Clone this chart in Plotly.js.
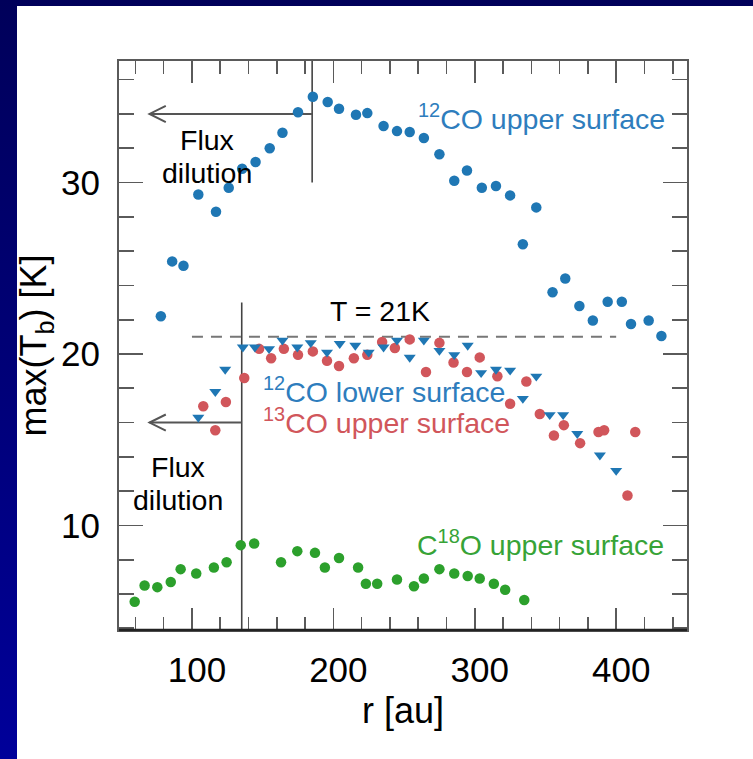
<!DOCTYPE html>
<html>
<head>
<meta charset="utf-8">
<script src="https://cdn.plot.ly/plotly-3.0.1.min.js"></script>
<style>
  html, body { margin: 0; padding: 0; }
  body { width: 753px; height: 759px; background: linear-gradient(to bottom, #00005a 0%, #000078 50%, #00009a 100%); position: relative; overflow: hidden; }
  #panel { position: absolute; left: 17px; top: 6px; right: 0; bottom: 0; background: #ffffff; }
  #chart { position: absolute; left: 0; top: 0; width: 753px; height: 759px; }
</style>
</head>
<body>
<div id="panel"></div>
<div id="chart"></div>
<script>
// ---- Data ----
const co12UpperR = [78, 86, 94, 104.5, 117, 126, 135.5, 145, 155, 164, 175, 185.5, 196, 204, 216, 224, 235.5, 245, 254, 264, 275, 285.5, 294.5, 305, 315, 325, 334, 343.5, 355, 364, 374, 383.5, 394, 404, 410.5, 423, 432];
const co12UpperT = [22.2, 25.4, 25.15, 29.3, 28.3, 29.7, 30.8, 31.2, 32.0, 32.9, 34.1, 35.0, 34.7, 34.3, 33.95, 34.05, 33.3, 33.0, 32.95, 32.6, 31.65, 30.1, 30.7, 29.7, 29.8, 29.25, 26.4, 28.55, 23.6, 24.4, 22.8, 21.95, 23.05, 23.05, 21.75, 21.95, 21.05];

const co12LowerR = [104.5, 116.5, 123.5, 136, 144.5, 154.5, 164, 174.5, 184, 195.5, 204.5, 215.5, 225, 235.5, 245, 254, 264, 275, 285.5, 295, 304.5, 315, 325, 334, 343.5, 353, 362.5, 372.5, 388.5, 400];
const co12LowerT = [16.3, 17.8, 19.1, 20.4, 20.4, 20.3, 20.8, 20.4, 20.65, 20.1, 20.6, 20.5, 20.1, 20.4, 20.8, 19.8, 20.8, 20.2, 19.95, 20.5, 18.9, 19.1, 19.05, 17.4, 18.7, 16.45, 16.45, 15.35, 14.1, 13.2];

const co13UpperR = [108, 116.5, 124, 137, 147.5, 156, 165, 175, 185.5, 195.5, 204, 214.5, 224, 234.5, 243.5, 254, 265.5, 275, 285, 294.5, 303.5, 316, 325, 336.5, 346, 356, 363, 374.5, 387.5, 391.5, 408, 413.5];
const co13UpperT = [16.95, 15.55, 17.2, 18.6, 20.3, 19.75, 20.3, 19.95, 20.15, 19.6, 19.3, 19.75, 19.95, 20.7, 20.35, 20.85, 18.95, 20.65, 19.5, 18.95, 19.8, 18.7, 17.1, 18.4, 16.5, 15.25, 15.85, 14.8, 15.45, 15.55, 11.75, 15.45];

const c18oUpperR = [59.5, 66.5, 75.5, 85, 92, 103, 115.5, 124.5, 134.5, 144, 163, 174.5, 187, 194, 204, 217.5, 223, 231, 245, 257, 264, 275, 285.5, 295, 303.5, 313.5, 321.5, 335];
const c18oUpperT = [5.55, 6.5, 6.4, 6.7, 7.45, 7.2, 7.55, 7.85, 8.85, 8.95, 7.85, 8.5, 8.4, 7.55, 8.1, 7.55, 6.6, 6.6, 6.85, 6.45, 6.9, 7.45, 7.2, 7.05, 6.9, 6.6, 6.25, 5.65];

const seriesNames = ['<sup>12</sup>CO upper surface', '<sup>12</sup>CO lower surface', '<sup>13</sup>CO upper surface', 'C<sup>18</sup>O upper surface'];
const xTickVals = [100, 200, 300, 400];
const yTickVals = [10, 20, 30];

// Reference markers: freeze-out temperature and flux-dilution radii
const tFreeze = 21;          // K
const rFluxUpper = 185;      // au, 12CO upper
const rFluxLower = 135.2;    // au, 12CO lower / 13CO
const rArrowTip = 70;        // au
const tArrowUpper = 34;      // K
const tArrowLower = 16;      // K

// ---- Styles ----
const FONT = 'Liberation Sans, Arial, Helvetica, sans-serif';
const BLUE = '#1f77b4', RED = '#d1565b', GREEN = '#2ca02c';
const AX = '#5a5a5a';

const xRange = [48.4, 450.1];
const yRange = [3.9, 37.09];

const traces = [
  { x: co12UpperR, y: co12UpperT, name: seriesNames[0], mode: 'markers', type: 'scatter',
    marker: { color: BLUE, size: 10.5, symbol: 'circle' } },
  { x: co13UpperR, y: co13UpperT, name: seriesNames[2], mode: 'markers', type: 'scatter',
    marker: { color: RED, size: 10.5, symbol: 'circle' } },
  { x: co12LowerR, y: co12LowerT, name: seriesNames[1], mode: 'markers', type: 'scatter',
    marker: { color: BLUE, size: 10.5, symbol: 'triangle-down' } },
  { x: c18oUpperR, y: c18oUpperT, name: seriesNames[3], mode: 'markers', type: 'scatter',
    marker: { color: GREEN, size: 10.5, symbol: 'circle' } }
];

// chevron arrowhead helper (data coords)
function chevron(xTip, yTip) {
  const dx = 11.5, dy = 0.47;
  return 'M ' + (xTip + dx) + ' ' + (yTip + dy) + ' L ' + xTip + ' ' + yTip + ' L ' + (xTip + dx) + ' ' + (yTip - dy);
}

const lineStyle = { color: '#555555', width: 2 };
const shapes = [
  { type: 'line', xref: 'x', yref: 'y', x0: rFluxUpper, x1: rFluxUpper, y0: 30, y1: yRange[1], line: { color: '#444', width: 1.6 }, layer: 'below' },
  { type: 'line', xref: 'x', yref: 'y', x0: rFluxUpper, x1: rArrowTip, y0: tArrowUpper, y1: tArrowUpper, line: lineStyle, layer: 'below' },
  { type: 'path', xref: 'x', yref: 'y', path: chevron(rArrowTip, tArrowUpper), line: lineStyle },
  { type: 'line', xref: 'x', yref: 'y', x0: rFluxLower, x1: rFluxLower, y0: yRange[0], y1: 23, line: { color: '#444', width: 1.6 }, layer: 'below' },
  { type: 'line', xref: 'x', yref: 'y', x0: rFluxLower, x1: rArrowTip, y0: tArrowLower, y1: tArrowLower, line: lineStyle, layer: 'below' },
  { type: 'path', xref: 'x', yref: 'y', path: chevron(rArrowTip, tArrowLower), line: lineStyle },
  { type: 'line', xref: 'x', yref: 'y', x0: 100, x1: 400, y0: tFreeze, y1: tFreeze, line: { color: '#777', width: 2, dash: '11px,8px' }, layer: 'below' },
  { type: 'line', xref: 'paper', yref: 'paper', x0: 0, x1: 1, y0: 0, y1: 0, line: { color: '#222', width: 2.5 } }
];

const annFont = (c) => ({ family: FONT, size: 28.5, color: c });
const annotations = [
  { x: 347.5, y: 33.8, xref: 'x', yref: 'y', text: seriesNames[0], showarrow: false, font: annFont('#2e7dbd') },
  { x: 236, y: 17.9, xref: 'x', yref: 'y', text: seriesNames[1], showarrow: false, font: annFont('#2e7dbd') },
  { x: 237.5, y: 16.1, xref: 'x', yref: 'y', text: seriesNames[2], showarrow: false, font: annFont('#d1565b') },
  { x: 346.5, y: 8.97, xref: 'x', yref: 'y', text: seriesNames[3], showarrow: false, font: annFont('#37a337') },
  { x: 233, y: 22.5, xref: 'x', yref: 'y', text: 'T = ' + tFreeze + 'K', showarrow: false, font: annFont('#000') },
  { x: 110.4, y: 32.5, xref: 'x', yref: 'y', text: 'Flux', showarrow: false, font: annFont('#000') },
  { x: 110.4, y: 30.55, xref: 'x', yref: 'y', text: 'dilution', showarrow: false, font: annFont('#000') },
  { x: 90.4, y: 13.42, xref: 'x', yref: 'y', text: 'Flux', showarrow: false, font: annFont('#000') },
  { x: 90.4, y: 11.5, xref: 'x', yref: 'y', text: 'dilution', showarrow: false, font: annFont('#000') }
];

const layout = {
  width: 753, height: 759,
  paper_bgcolor: 'rgba(0,0,0,0)',
  plot_bgcolor: '#ffffff',
  margin: { l: 119, r: 66, t: 61, b: 129, pad: 0 },
  showlegend: false,
  font: { family: FONT, color: '#000' },
  xaxis: {
    range: xRange, tickvals: xTickVals, ticktext: xTickVals.map(String),
    ticks: 'inside', ticklen: 22, tickwidth: 1.6, tickcolor: AX,
    minor: { dtick: 20, tick0: 0, ticks: 'inside', ticklen: 13, tickwidth: 1.6, tickcolor: AX },
    showline: true, linecolor: AX, linewidth: 2, mirror: 'allticks',
    showgrid: false, zeroline: false,
    tickfont: { family: FONT, size: 35, color: '#000' },
    ticklabelshift: 5, ticklabelstandoff: 8,
    title: { text: 'r [au]', font: { family: FONT, size: 36, color: '#000' }, standoff: 10 }
  },
  yaxis: {
    range: yRange, tickvals: yTickVals, ticktext: yTickVals.map(String),
    ticks: 'inside', ticklen: 24, tickwidth: 1.6, tickcolor: AX,
    minor: { dtick: 2, tick0: 0, ticks: 'inside', ticklen: 15, tickwidth: 1.6, tickcolor: AX },
    showline: true, linecolor: AX, linewidth: 2, mirror: 'allticks',
    showgrid: false, zeroline: false,
    tickfont: { family: FONT, size: 35, color: '#000' },
    ticklabelstandoff: 10,
    title: { text: 'max(T<sub>b</sub>) [K]', font: { family: FONT, size: 36, color: '#000' }, standoff: 3 }
  },
  shapes: shapes,
  annotations: annotations
};

Plotly.newPlot('chart', traces, layout, { displayModeBar: false, staticPlot: true });
</script>
</body>
</html>
